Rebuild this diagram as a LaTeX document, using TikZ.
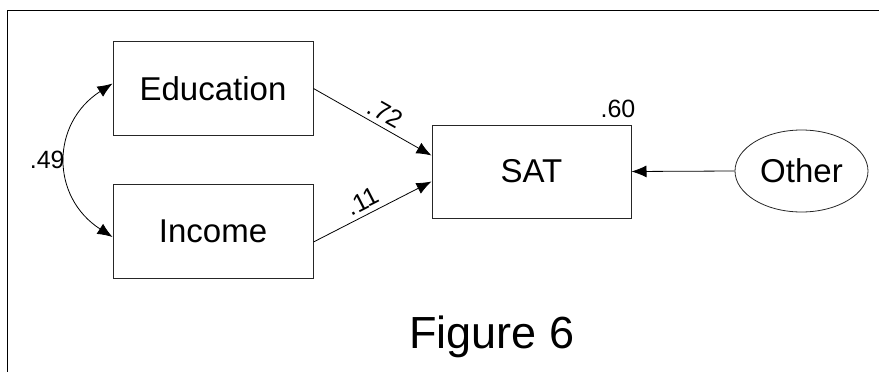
\documentclass[tikz,border=0pt]{standalone}
\usepackage{fontspec}
\setmainfont{Liberation Sans}
\usetikzlibrary{arrows.meta,shapes.geometric}

\begin{document}
\begin{tikzpicture}[x=1pt, y=-1pt, >={Latex[length=15pt,width=12pt]},
		varbox/.style={draw=black!85, line width=1pt, minimum width=200pt, minimum height=94pt, font=\fontsize{33}{38}\selectfont},
		resid/.style={draw=black!85, line width=0.8pt, ellipse, minimum width=133pt, minimum height=82pt, inner sep=0pt, font=\fontsize{33}{38}\selectfont},
		pfeil/.style={->, line width=0.8pt},
		coef/.style={font=\fontsize{25}{30}\selectfont, inner sep=2pt}]
				%Bildbereich
				\useasboundingbox (0,0) rectangle (879,372);
				% Rahmen
				\draw[line width=1pt] (7,372) |- (879,10);
				% Variablen
				\node[varbox] (edu) at (213,88.5) {Education};
				\node[varbox] (inc) at (213,231) {Income};
				\node[varbox, minimum width=199pt, minimum height=93pt] (sat) at (531.5,171.5) {SAT};
				\node[resid] (oth) at (801.5,171) {Other};
				% Pfade
				\draw[pfeil] (edu.east) -- node[coef, sloped, above=3pt, pos=0.55] {.72} ([yshift=16pt]sat.west);
				\draw[pfeil] ([yshift=-11pt]inc.east) -- node[coef, sloped, above=3pt, pos=0.47] {.11} ([yshift=-10pt]sat.west);
				\draw[pfeil] (oth.west) -- (sat.east);
				% Korrelation
				\draw[<->, line width=0.8pt] ([yshift=5pt]edu.west) .. controls +(-62,40) and +(-62,-40) .. node[coef, left, inner sep=1pt] {.49} ([yshift=-6pt]inc.west);
				% R-Quadrat
				\node[coef, anchor=south east] (rsq) at ([xshift=6pt, yshift=5pt]sat.north east) {.60};
				%Beschriftung
				\node[font=\fontsize{45}{50}\selectfont] (cap) at (492,337) {Figure 6};
\end{tikzpicture}
\end{document}
